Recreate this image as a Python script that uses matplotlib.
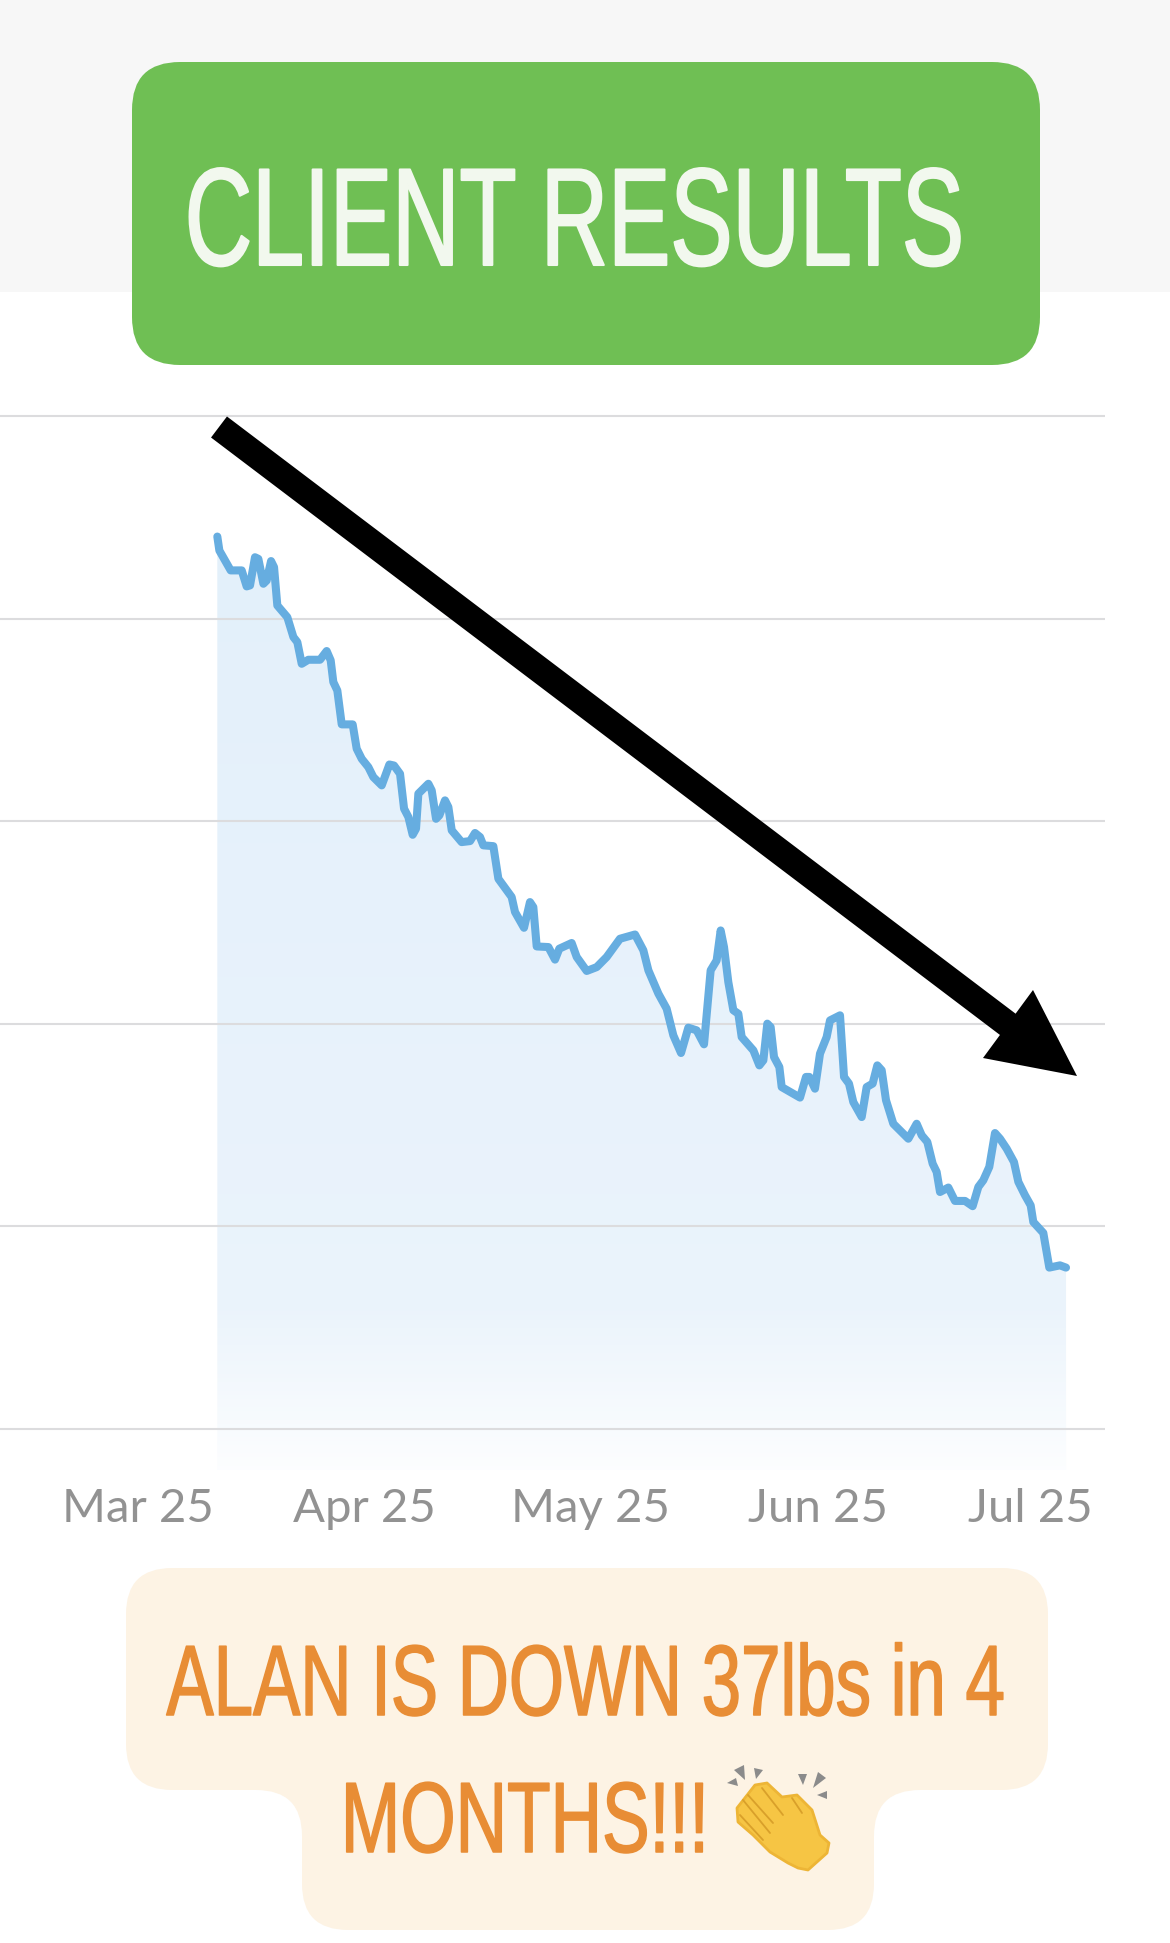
import numpy as np
import matplotlib.pyplot as plt
from matplotlib.path import Path
from matplotlib.patches import PathPatch, Polygon
from matplotlib.patheffects import AbstractPathEffect
from matplotlib.transforms import Affine2D

# days since 1 March, weight in lbs (gridlines 10 lbs apart)
days = [10.92, 11.20, 11.97, 12.75, 14.26, 14.94, 15.40, 16.08, 16.54, 17.23, 17.68, 18.28, 18.69, 19.14,
        20.51, 21.34, 21.88, 22.48, 23.39, 24.99, 25.90, 26.45, 26.81, 27.36, 27.96, 29.46, 30.01, 30.70,
        31.61, 32.29, 33.44, 34.49, 35.12, 35.95, 36.50, 37.09, 37.68, 38.14, 38.46, 39.83, 40.29, 40.88,
        41.34, 42.11, 42.57, 43.03, 44.39, 45.54, 46.22, 46.91, 47.36, 48.73, 49.42, 51.24, 51.70, 52.93,
        53.75, 54.21, 54.67, 56.27, 57.18, 57.77, 59.46, 60.15, 61.52, 62.89, 64.26, 66.08, 68.14, 69.28,
        69.97, 71.34, 72.47, 73.39, 74.44, 75.44, 76.58, 77.59, 78.50, 79.32, 79.87, 80.33, 80.92, 81.61,
        82.29, 82.75, 84.35, 85.17, 85.72, 86.26, 86.72, 87.18, 87.91, 88.23, 90.74, 91.56, 92.02, 92.79,
        93.48, 94.39, 94.85, 96.22, 96.77, 97.45, 98.04, 99.19, 99.87, 100.69, 101.33, 101.93, 102.52,
        103.52, 105.58, 106.72, 107.41, 108.18, 108.91, 109.46, 109.92, 111.06, 111.97, 113.34, 114.39,
        115.17, 115.85, 116.67, 117.45, 118.14, 119.05, 120.05, 120.65, 121.56, 122.34, 122.70, 124.07,
        124.89, 126.35, 127.18]
weight = [214.05, 213.36, 212.87, 212.38, 212.38, 211.59, 211.64, 213.03, 212.95, 211.72, 211.88, 212.84,
          212.54, 210.65, 210.07, 209.09, 208.84, 207.77, 207.97, 207.97, 208.40, 207.94, 206.87, 206.45,
          204.78, 204.78, 203.58, 203.08, 202.67, 202.18, 201.77, 202.80, 202.75, 202.34, 200.62, 200.21,
          199.33, 199.63, 201.36, 201.85, 201.52, 200.12, 200.29, 201.03, 200.70, 199.55, 198.97, 199.02,
          199.42, 199.22, 198.81, 198.77, 197.16, 196.26, 195.52, 194.74, 196.01, 195.76, 193.82, 193.79,
          193.17, 193.71, 193.99, 193.30, 192.61, 192.80, 193.30, 194.20, 194.41, 193.63, 192.64, 191.49,
          190.75, 189.43, 188.56, 189.81, 189.68, 188.99, 192.64, 193.13, 194.61, 193.79, 192.06, 190.67,
          190.50, 189.35, 188.69, 187.95, 188.20, 190.01, 189.84, 188.36, 187.87, 186.88, 186.36, 187.38,
          187.38, 186.80, 188.53, 189.35, 190.17, 190.42, 187.38, 187.05, 186.14, 185.40, 186.88, 187.05,
          187.95, 187.71, 186.23, 185.07, 184.33, 185.07, 184.50, 184.17, 183.10, 182.69, 181.70, 181.92,
          181.26, 181.26, 181.00, 181.95, 182.28, 182.94, 184.61, 184.33, 183.84, 183.18, 182.20, 181.54,
          181.04, 180.22, 179.68, 177.97, 178.08, 177.97]
month_ticks = [0, 31, 62, 93.2, 122.3]
month_labels = ['Mar 25', 'Apr 25', 'May 25', 'Jun 25', 'Jul 25']
grid_lbs = [170, 180, 190, 200, 210, 220]
title = 'CLIENT RESULTS'
caption = ['ALAN IS DOWN 37lbs in 4', 'MONTHS!!!']

W, H = 1170, 1943
FLOOR = 167.98


def rounded(verts, r):
    # closed path with rounded corners, works for inner corners too
    verts = np.array(verts, dtype=float)
    n = len(verts)
    pts, codes = [], []
    for i in range(n):
        p, a, b = verts[i], verts[i - 1], verts[(i + 1) % n]
        s = p + (a - p) / np.linalg.norm(a - p) * r
        e = p + (b - p) / np.linalg.norm(b - p) * r
        pts += [s, p, e]
        codes += [Path.LINETO if i else Path.MOVETO, Path.CURVE3, Path.CURVE3]
    pts.append(pts[0])
    codes.append(Path.CLOSEPOLY)
    return Path(pts, codes)


class Squeeze(AbstractPathEffect):
    # no condensed font installed, so reshape the text around its anchor, and thicken it a bit
    def __init__(self, cx, base, sx, sy, bold):
        super().__init__()
        self.cx, self.cy = cx, H - base
        self.sx, self.sy = sx, sy
        self.bold = bold

    def draw_path(self, renderer, gc, tpath, affine, rgbFace=None):
        shape = Affine2D().translate(-self.cx, -self.cy).scale(self.sx, self.sy).translate(self.cx, self.cy)
        gc0 = renderer.new_gc()
        gc0.copy_properties(gc)
        gc0.set_foreground(rgbFace)
        gc0.set_linewidth(self.bold)
        renderer.draw_path(gc0, tpath, affine + shape, rgbFace)
        gc0.restore()


fig = plt.figure(figsize=(W / 100, H / 100), dpi=100, facecolor='white')

# chart axes: x 0..1105 px, y 400..1470 px
ax = fig.add_axes([0, 1 - 1470 / H, 1105 / W, 1070 / H])
ax.patch.set_alpha(0)
xlim = (-18.85, 132.52)
ylim = (FLOOR, 220.79)

# gradient fill under the line
stops_y = np.linspace(FLOOR, 220.79, 256)
grad = np.ones((256, 1, 4))
top = np.array([0.890, 0.941, 0.984])
low = np.array([0.92, 0.955, 0.985])
for i, v in enumerate(stops_y):
    if v > 176:
        c = top + (low - top) * (214 - min(v, 214)) / 38
    else:
        c = low + (np.array([0.99, 0.995, 1.0]) - low) * (176 - v) / (176 - FLOOR)
    grad[255 - i, 0, :3] = c
area = ax.fill_between(days, weight, FLOOR, facecolor='none', edgecolor='none')
im = ax.imshow(grad, extent=[xlim[0], xlim[1], ylim[0], ylim[1]], aspect='auto', zorder=1)
im.set_clip_path(area.get_paths()[0], transform=ax.transData)

ax.plot(days, weight, color='#66ADE0', lw=5.8, solid_joinstyle='round', solid_capstyle='round', zorder=3)

ax.set_xlim(xlim)
ax.set_ylim(ylim)
ax.set_xticks(month_ticks)
ax.set_xticklabels(month_labels, family='Lato', fontsize=34, color='#929292')
ax.set_yticks(grid_lbs)
ax.set_yticklabels([])
ax.tick_params(length=0, pad=13)
ax.grid(axis='y', color='#dcdcde', lw=1.5)
ax.set_axisbelow(False)
for s in ax.spines.values():
    s.set_visible(False)

# overlay in pixel coordinates for the story stickers
top_ax = fig.add_axes([0, 0, 1, 1], zorder=5)
top_ax.set_xlim(0, W)
top_ax.set_ylim(H, 0)
top_ax.axis('off')

back = fig.add_axes([0, 0, 1, 1], zorder=-1)
back.set_xlim(0, W)
back.set_ylim(H, 0)
back.axis('off')
back.fill_between([0, W], 0, 292, color='#f7f7f7', lw=0)

top_ax.add_patch(PathPatch(rounded([(132, 62), (1040, 62), (1040, 365), (132, 365)], 48),
                           facecolor='#6FBF54', edgecolor='none'))
top_ax.text(574, 265, title, family='Liberation Sans', fontsize=85, color='#F2F8EE',
            ha='center', va='baseline', path_effects=[Squeeze(574, 265, 0.79, 1.176, 1.5)])

# arrow
top_ax.plot([219, 1010], [427, 1026], color='black', lw=19, solid_capstyle='butt')
top_ax.add_patch(Polygon([(1033, 990), (1077, 1076), (983, 1058)], facecolor='black', edgecolor='none'))

# caption sticker
top_ax.add_patch(PathPatch(rounded([(126, 1568), (1048, 1568), (1048, 1790), (874, 1790), (874, 1930),
                                    (302, 1930), (302, 1790), (126, 1790)], 46),
                           facecolor='#FDF3E4', edgecolor='none'))
top_ax.text(586, 1715, caption[0], family='Liberation Sans', fontsize=60, color='#E88D35',
            ha='center', va='baseline', path_effects=[Squeeze(586, 1715, 0.85, 1.2, 1.1)])
top_ax.text(525, 1852, caption[1], family='Liberation Sans', fontsize=60, color='#E88D35',
            ha='center', va='baseline', path_effects=[Squeeze(525, 1852, 0.855, 1.2, 1.1)])

# clapping hands, no emoji font available
top_ax.add_patch(Polygon([(737, 1808), (755, 1785), (767, 1783), (782, 1797), (797, 1795), (812, 1810),
                          (820, 1835), (829, 1843), (827, 1853), (808, 1870), (798, 1868), (788, 1863),
                          (770, 1852), (753, 1835), (738, 1822)], facecolor='#F6C544', edgecolor='#EDB536',
                         lw=2, joinstyle='round'))
for x0, y0, x1, y1 in [(748, 1795, 773, 1823), (743, 1800, 770, 1833), (762, 1788, 783, 1815),
                       (740, 1815, 763, 1840), (792, 1798, 802, 1813)]:
    top_ax.plot([x0, x1], [y0, y1], color='#D9A02A', lw=1.3, solid_capstyle='round')
for tri in [[(727, 1783), (736, 1778), (738, 1786)], [(734, 1770), (744, 1765), (745, 1780)],
            [(754, 1768), (763, 1770), (756, 1779)], [(798, 1774), (807, 1774), (803, 1785)],
            [(818, 1772), (826, 1778), (813, 1788)], [(817, 1795), (827, 1791), (827, 1799)]]:
    top_ax.add_patch(Polygon(tri, facecolor='#8b8b8b', edgecolor='none'))

fig.savefig('out.png', dpi=100)
